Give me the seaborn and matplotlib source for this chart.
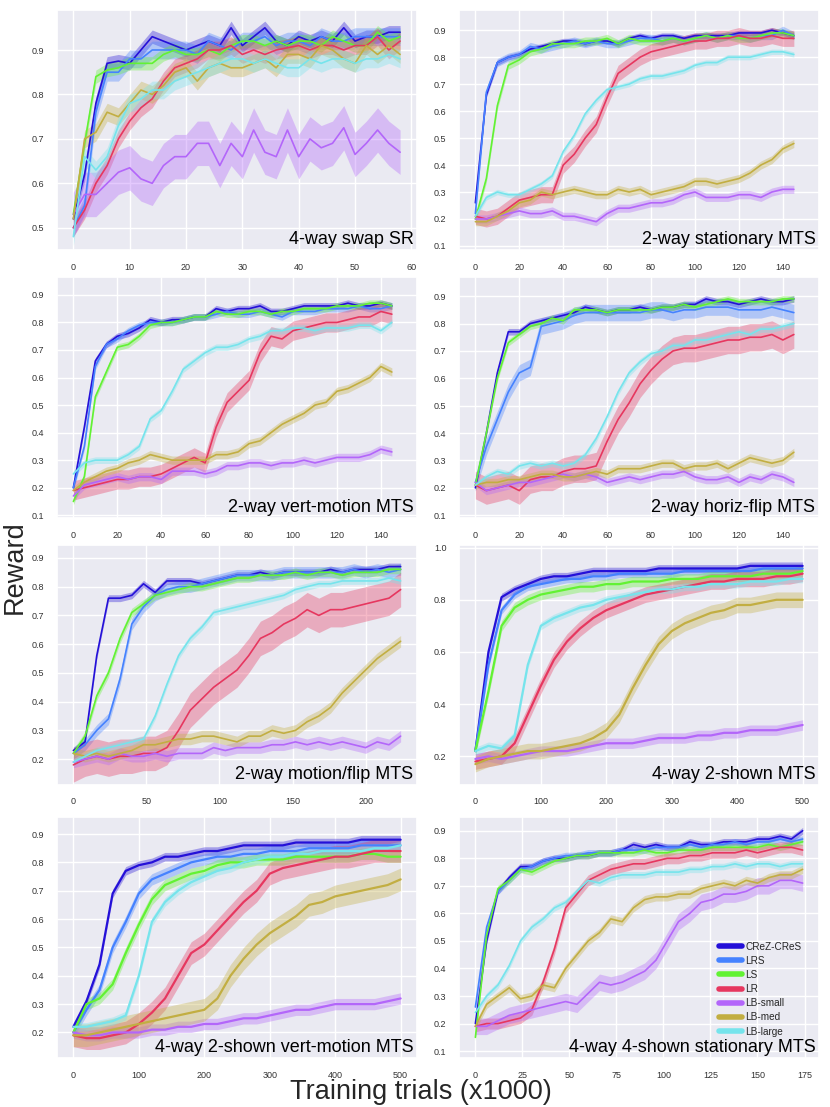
import numpy as np
import seaborn as sns
import matplotlib.pyplot as plt
from matplotlib.lines import Line2D
from matplotlib.ticker import MultipleLocator

# ----------------------
# Series names / colours
# ----------------------
MODELS = ["CReZ-CReS", "LRS", "LS", "LR", "LB-small", "LB-med", "LB-large"]
COLORS = ["#2410d8", "#4582ff", "#62f233", "#e6375f", "#b366fa", "#c2ae42", "#76e4ec"]

# ----------------------
# 4-way swap SR  (x = 0..58, step 2)
# ----------------------
SR_X = np.arange(0, 60, 2)
SR_CREZ = [0.52, 0.62, 0.78, 0.87, 0.875, 0.87, 0.90, 0.93, 0.92, 0.91, 0.90, 0.91, 0.92, 0.91, 0.95,
           0.91, 0.93, 0.95, 0.92, 0.91, 0.93, 0.92, 0.93, 0.92, 0.95, 0.92, 0.93, 0.93, 0.94, 0.94]
SR_LRS = [0.50, 0.55, 0.76, 0.85, 0.85, 0.88, 0.88, 0.90, 0.90, 0.90, 0.90, 0.89, 0.92, 0.91, 0.90,
          0.92, 0.92, 0.93, 0.91, 0.92, 0.92, 0.91, 0.93, 0.92, 0.92, 0.93, 0.93, 0.93, 0.93, 0.93]
SR_LS = [0.53, 0.69, 0.84, 0.855, 0.86, 0.87, 0.87, 0.87, 0.89, 0.90, 0.89, 0.89, 0.90, 0.89, 0.91,
         0.92, 0.92, 0.91, 0.92, 0.91, 0.92, 0.92, 0.91, 0.93, 0.92, 0.91, 0.91, 0.94, 0.92, 0.93]
SR_LR = [0.50, 0.54, 0.60, 0.64, 0.70, 0.74, 0.77, 0.79, 0.83, 0.86, 0.87, 0.88, 0.90, 0.90, 0.91,
         0.89, 0.90, 0.89, 0.90, 0.905, 0.91, 0.90, 0.91, 0.91, 0.90, 0.91, 0.91, 0.93, 0.90, 0.92]
SR_LBS = [0.53, 0.575, 0.575, 0.60, 0.625, 0.635, 0.61, 0.60, 0.64, 0.66, 0.66, 0.69, 0.69, 0.64, 0.69,
          0.66, 0.72, 0.67, 0.66, 0.72, 0.66, 0.70, 0.68, 0.69, 0.725, 0.665, 0.69, 0.72, 0.69, 0.67]
SR_LBM = [0.52, 0.70, 0.715, 0.76, 0.75, 0.78, 0.81, 0.80, 0.82, 0.85, 0.86, 0.83, 0.86, 0.87, 0.86,
          0.86, 0.87, 0.88, 0.86, 0.89, 0.89, 0.88, 0.91, 0.90, 0.88, 0.87, 0.91, 0.89, 0.91, 0.89]
SR_LBL = [0.48, 0.66, 0.63, 0.66, 0.73, 0.78, 0.79, 0.81, 0.81, 0.83, 0.84, 0.85, 0.86, 0.87, 0.88,
          0.88, 0.87, 0.88, 0.87, 0.86, 0.86, 0.88, 0.87, 0.88, 0.88, 0.87, 0.88, 0.88, 0.89, 0.88]
SR_BAND = [0.015, 0.02, 0.015, 0.02, 0.05, 0.02, 0.02]

# ----------------------
# 2-way stationary MTS  (x = 0..145, step 5)
# ----------------------
ST_X = np.arange(0, 150, 5)
ST_CREZ = [0.26, 0.66, 0.78, 0.80, 0.81, 0.83, 0.84, 0.85, 0.86, 0.86, 0.85, 0.86, 0.86, 0.85, 0.87,
           0.88, 0.87, 0.88, 0.88, 0.87, 0.88, 0.88, 0.88, 0.88, 0.89, 0.89, 0.89, 0.90, 0.89, 0.88]
ST_LRS = [0.22, 0.67, 0.78, 0.80, 0.81, 0.84, 0.83, 0.84, 0.85, 0.86, 0.85, 0.86, 0.85, 0.85, 0.86,
          0.87, 0.87, 0.86, 0.87, 0.86, 0.87, 0.88, 0.87, 0.88, 0.88, 0.87, 0.88, 0.88, 0.90, 0.88]
ST_LS = [0.20, 0.35, 0.62, 0.77, 0.79, 0.82, 0.83, 0.85, 0.85, 0.85, 0.86, 0.86, 0.87, 0.85, 0.87,
         0.86, 0.86, 0.86, 0.87, 0.86, 0.87, 0.88, 0.87, 0.88, 0.87, 0.87, 0.88, 0.89, 0.89, 0.88]
ST_LR = [0.21, 0.20, 0.21, 0.24, 0.27, 0.28, 0.29, 0.29, 0.40, 0.44, 0.50, 0.55, 0.65, 0.74, 0.77,
         0.80, 0.82, 0.83, 0.84, 0.85, 0.86, 0.86, 0.87, 0.87, 0.88, 0.87, 0.87, 0.88, 0.87, 0.87]
ST_LBS = [0.20, 0.20, 0.21, 0.22, 0.23, 0.22, 0.22, 0.23, 0.21, 0.21, 0.20, 0.19, 0.22, 0.24, 0.24,
          0.25, 0.26, 0.26, 0.27, 0.29, 0.30, 0.28, 0.28, 0.28, 0.29, 0.29, 0.28, 0.30, 0.31, 0.31]
ST_LBM = [0.19, 0.19, 0.21, 0.23, 0.26, 0.27, 0.30, 0.29, 0.30, 0.31, 0.30, 0.29, 0.29, 0.31, 0.30,
          0.31, 0.29, 0.30, 0.31, 0.32, 0.34, 0.34, 0.33, 0.34, 0.35, 0.37, 0.40, 0.42, 0.46, 0.48]
ST_LBL = [0.21, 0.28, 0.30, 0.29, 0.29, 0.31, 0.33, 0.36, 0.45, 0.51, 0.59, 0.64, 0.68, 0.69, 0.70,
          0.72, 0.73, 0.73, 0.74, 0.75, 0.77, 0.78, 0.78, 0.80, 0.80, 0.80, 0.81, 0.82, 0.82, 0.81]
ST_BAND = [0.01, 0.015, 0.015, 0.03, 0.015, 0.015, 0.01]

# ----------------------
# 2-way vert-motion MTS  (x = 0..145, step 5)
# ----------------------
VM_X = np.arange(0, 150, 5)
VM_CREZ = [0.20, 0.42, 0.66, 0.72, 0.75, 0.76, 0.78, 0.81, 0.80, 0.81, 0.81, 0.82, 0.82, 0.85, 0.84,
           0.85, 0.85, 0.86, 0.84, 0.84, 0.85, 0.86, 0.86, 0.86, 0.86, 0.87, 0.86, 0.86, 0.87, 0.86]
VM_LRS = [0.20, 0.35, 0.64, 0.72, 0.74, 0.77, 0.79, 0.80, 0.80, 0.80, 0.81, 0.82, 0.82, 0.83, 0.84,
          0.83, 0.83, 0.84, 0.83, 0.82, 0.84, 0.84, 0.84, 0.85, 0.85, 0.85, 0.86, 0.85, 0.85, 0.86]
VM_LS = [0.15, 0.24, 0.53, 0.62, 0.71, 0.72, 0.75, 0.79, 0.80, 0.80, 0.81, 0.82, 0.82, 0.84, 0.83,
         0.83, 0.84, 0.84, 0.83, 0.84, 0.84, 0.85, 0.85, 0.85, 0.86, 0.86, 0.86, 0.87, 0.87, 0.86]
VM_LR = [0.19, 0.20, 0.21, 0.22, 0.23, 0.23, 0.24, 0.24, 0.25, 0.27, 0.29, 0.31, 0.29, 0.42, 0.51,
         0.55, 0.59, 0.69, 0.75, 0.74, 0.77, 0.78, 0.79, 0.80, 0.80, 0.81, 0.82, 0.82, 0.84, 0.83]
VM_LBS = [0.17, 0.21, 0.22, 0.23, 0.24, 0.23, 0.24, 0.24, 0.23, 0.26, 0.26, 0.26, 0.25, 0.26, 0.28,
          0.28, 0.29, 0.29, 0.28, 0.29, 0.29, 0.30, 0.29, 0.30, 0.31, 0.31, 0.31, 0.32, 0.34, 0.33]
VM_LBM = [0.19, 0.22, 0.24, 0.26, 0.27, 0.29, 0.30, 0.32, 0.31, 0.30, 0.30, 0.30, 0.30, 0.32, 0.32,
          0.33, 0.36, 0.37, 0.40, 0.43, 0.45, 0.47, 0.50, 0.51, 0.55, 0.56, 0.58, 0.60, 0.64, 0.62]
VM_LBL = [0.25, 0.29, 0.30, 0.30, 0.30, 0.32, 0.35, 0.45, 0.48, 0.55, 0.63, 0.66, 0.69, 0.71, 0.71,
          0.72, 0.74, 0.75, 0.77, 0.77, 0.78, 0.78, 0.77, 0.78, 0.78, 0.78, 0.79, 0.79, 0.77, 0.80]
VM_BAND = [0.012, 0.012, 0.012, 0.035, 0.015, 0.015, 0.012]

# ----------------------
# 2-way horiz-flip MTS  (x = 0..145, step 5)
# ----------------------
HF_X = np.arange(0, 150, 5)
HF_CREZ = [0.20, 0.40, 0.62, 0.77, 0.77, 0.80, 0.81, 0.82, 0.83, 0.84, 0.86, 0.85, 0.84, 0.85, 0.85,
           0.86, 0.85, 0.86, 0.86, 0.87, 0.87, 0.89, 0.88, 0.88, 0.87, 0.88, 0.89, 0.88, 0.88, 0.89]
HF_LRS = [0.22, 0.35, 0.45, 0.55, 0.62, 0.64, 0.79, 0.80, 0.81, 0.83, 0.84, 0.84, 0.84, 0.84, 0.84,
          0.84, 0.85, 0.85, 0.84, 0.85, 0.85, 0.86, 0.86, 0.86, 0.85, 0.85, 0.85, 0.86, 0.85, 0.84]
HF_LS = [0.21, 0.40, 0.60, 0.73, 0.76, 0.79, 0.80, 0.82, 0.81, 0.85, 0.85, 0.85, 0.84, 0.85, 0.85,
         0.85, 0.85, 0.86, 0.86, 0.87, 0.86, 0.87, 0.88, 0.89, 0.88, 0.88, 0.88, 0.88, 0.89, 0.89]
HF_LR = [0.21, 0.19, 0.20, 0.21, 0.19, 0.23, 0.24, 0.24, 0.26, 0.27, 0.27, 0.28, 0.37, 0.45, 0.51,
         0.58, 0.63, 0.67, 0.70, 0.71, 0.71, 0.72, 0.73, 0.74, 0.74, 0.75, 0.75, 0.76, 0.74, 0.76]
HF_LBS = [0.22, 0.19, 0.20, 0.21, 0.22, 0.22, 0.23, 0.24, 0.25, 0.24, 0.25, 0.24, 0.22, 0.23, 0.24,
          0.23, 0.24, 0.25, 0.25, 0.26, 0.24, 0.23, 0.23, 0.24, 0.22, 0.24, 0.23, 0.25, 0.24, 0.22]
HF_LBM = [0.21, 0.22, 0.22, 0.23, 0.23, 0.24, 0.25, 0.25, 0.24, 0.24, 0.25, 0.26, 0.25, 0.27, 0.27,
          0.27, 0.28, 0.29, 0.29, 0.27, 0.28, 0.28, 0.29, 0.27, 0.29, 0.31, 0.30, 0.29, 0.30, 0.33]
HF_LBL = [0.21, 0.24, 0.26, 0.25, 0.28, 0.29, 0.28, 0.29, 0.28, 0.29, 0.32, 0.38, 0.46, 0.55, 0.62,
          0.66, 0.69, 0.70, 0.72, 0.72, 0.74, 0.74, 0.75, 0.76, 0.77, 0.76, 0.78, 0.78, 0.79, 0.80]
HF_BAND = [0.012, 0.03, 0.012, 0.05, 0.015, 0.015, 0.012]

# ----------------------
# 2-way motion/flip MTS  (x = 0..224, step 8)
# ----------------------
MF_X = np.arange(0, 225, 8)
MF_CREZ = [0.23, 0.26, 0.56, 0.76, 0.76, 0.77, 0.81, 0.78, 0.82, 0.82, 0.82, 0.81, 0.82, 0.83, 0.84,
           0.84, 0.85, 0.84, 0.85, 0.85, 0.85, 0.85, 0.86, 0.85, 0.86, 0.86, 0.86, 0.87, 0.87]
MF_LRS = [0.22, 0.25, 0.30, 0.34, 0.48, 0.67, 0.73, 0.77, 0.79, 0.80, 0.80, 0.81, 0.82, 0.83, 0.84,
          0.84, 0.84, 0.84, 0.85, 0.85, 0.85, 0.85, 0.85, 0.85, 0.86, 0.85, 0.86, 0.85, 0.86]
MF_LS = [0.22, 0.28, 0.42, 0.50, 0.62, 0.71, 0.74, 0.77, 0.78, 0.79, 0.80, 0.80, 0.81, 0.82, 0.83,
         0.83, 0.84, 0.84, 0.84, 0.85, 0.84, 0.85, 0.85, 0.84, 0.85, 0.85, 0.85, 0.86, 0.86]
MF_LR = [0.18, 0.20, 0.21, 0.20, 0.21, 0.21, 0.22, 0.22, 0.24, 0.30, 0.37, 0.41, 0.45, 0.48, 0.51,
         0.56, 0.62, 0.64, 0.67, 0.69, 0.72, 0.70, 0.72, 0.72, 0.73, 0.74, 0.75, 0.76, 0.79]
MF_LBS = [0.19, 0.20, 0.21, 0.20, 0.22, 0.21, 0.21, 0.22, 0.21, 0.22, 0.22, 0.22, 0.24, 0.23, 0.24,
          0.24, 0.24, 0.25, 0.25, 0.26, 0.25, 0.26, 0.25, 0.26, 0.25, 0.24, 0.26, 0.25, 0.28]
MF_LBM = [0.22, 0.21, 0.22, 0.21, 0.22, 0.23, 0.25, 0.25, 0.26, 0.27, 0.27, 0.28, 0.28, 0.27, 0.26,
          0.28, 0.28, 0.30, 0.29, 0.30, 0.33, 0.35, 0.38, 0.43, 0.47, 0.51, 0.55, 0.58, 0.61]
MF_LBL = [0.19, 0.21, 0.23, 0.24, 0.25, 0.26, 0.27, 0.35, 0.46, 0.56, 0.62, 0.66, 0.71, 0.72, 0.73,
          0.74, 0.75, 0.76, 0.77, 0.79, 0.80, 0.81, 0.81, 0.82, 0.82, 0.82, 0.82, 0.83, 0.82]
MF_BAND = [0.012, 0.02, 0.015, 0.06, 0.02, 0.02, 0.012]

# ----------------------
# 4-way 2-shown MTS  (x = 0..500, step 20)
# ----------------------
S2_X = np.arange(0, 501, 20)
S2_CREZ = [0.22, 0.60, 0.81, 0.84, 0.86, 0.88, 0.89, 0.89, 0.90, 0.91, 0.91, 0.91, 0.91,
           0.91, 0.92, 0.92, 0.92, 0.92, 0.92, 0.92, 0.92, 0.93, 0.93, 0.93, 0.93, 0.93]
S2_LRS = [0.22, 0.55, 0.76, 0.82, 0.85, 0.86, 0.87, 0.88, 0.88, 0.89, 0.89, 0.90, 0.90,
          0.90, 0.90, 0.90, 0.91, 0.91, 0.91, 0.91, 0.91, 0.91, 0.92, 0.92, 0.92, 0.92]
S2_LS = [0.22, 0.45, 0.70, 0.77, 0.80, 0.82, 0.83, 0.84, 0.85, 0.85, 0.86, 0.86, 0.87,
         0.87, 0.87, 0.88, 0.88, 0.88, 0.89, 0.89, 0.89, 0.89, 0.90, 0.90, 0.90, 0.91]
S2_LR = [0.18, 0.19, 0.20, 0.25, 0.36, 0.47, 0.57, 0.64, 0.69, 0.73, 0.76, 0.78, 0.80,
         0.82, 0.83, 0.84, 0.85, 0.86, 0.87, 0.87, 0.88, 0.88, 0.88, 0.89, 0.89, 0.90]
S2_LBS = [0.19, 0.20, 0.19, 0.20, 0.21, 0.22, 0.22, 0.22, 0.23, 0.24, 0.25, 0.25, 0.25,
          0.26, 0.27, 0.27, 0.27, 0.28, 0.28, 0.29, 0.29, 0.30, 0.30, 0.30, 0.31, 0.32]
S2_LBM = [0.17, 0.19, 0.20, 0.21, 0.22, 0.22, 0.23, 0.24, 0.25, 0.27, 0.30, 0.36, 0.46,
          0.55, 0.63, 0.68, 0.71, 0.73, 0.75, 0.76, 0.78, 0.78, 0.79, 0.80, 0.80, 0.80]
S2_LBL = [0.22, 0.24, 0.23, 0.28, 0.55, 0.70, 0.73, 0.75, 0.77, 0.78, 0.80, 0.81, 0.82,
          0.83, 0.84, 0.84, 0.85, 0.85, 0.86, 0.86, 0.86, 0.87, 0.87, 0.87, 0.88, 0.88]
S2_BAND = [0.015, 0.015, 0.02, 0.03, 0.02, 0.03, 0.015]

# ----------------------
# 4-way 2-shown vert-motion MTS  (x = 0..500, step 20)
# ----------------------
S2V_X = np.arange(0, 501, 20)
S2V_CREZ = [0.22, 0.31, 0.44, 0.69, 0.77, 0.79, 0.80, 0.82, 0.82, 0.83, 0.84, 0.84, 0.85,
            0.86, 0.86, 0.86, 0.86, 0.87, 0.87, 0.87, 0.87, 0.87, 0.88, 0.88, 0.88, 0.88]
S2V_LRS = [0.20, 0.28, 0.35, 0.50, 0.59, 0.69, 0.74, 0.76, 0.78, 0.80, 0.81, 0.82, 0.82,
           0.83, 0.83, 0.84, 0.84, 0.84, 0.85, 0.85, 0.85, 0.85, 0.86, 0.86, 0.86, 0.86]
S2V_LS = [0.20, 0.30, 0.32, 0.37, 0.48, 0.58, 0.67, 0.72, 0.74, 0.76, 0.77, 0.79, 0.80,
          0.80, 0.81, 0.81, 0.81, 0.82, 0.82, 0.82, 0.82, 0.82, 0.83, 0.83, 0.82, 0.82]
S2V_LR = [0.19, 0.18, 0.18, 0.19, 0.20, 0.23, 0.27, 0.32, 0.40, 0.48, 0.51, 0.56, 0.61,
          0.66, 0.70, 0.76, 0.78, 0.79, 0.80, 0.81, 0.82, 0.82, 0.83, 0.84, 0.84, 0.84]
S2V_LBS = [0.20, 0.19, 0.19, 0.20, 0.20, 0.20, 0.21, 0.21, 0.22, 0.22, 0.23, 0.23, 0.24,
           0.25, 0.25, 0.26, 0.27, 0.28, 0.28, 0.29, 0.30, 0.30, 0.30, 0.30, 0.31, 0.32]
S2V_LBM = [0.19, 0.19, 0.20, 0.21, 0.22, 0.23, 0.24, 0.25, 0.26, 0.27, 0.28, 0.32, 0.40,
           0.46, 0.51, 0.55, 0.58, 0.61, 0.65, 0.66, 0.68, 0.69, 0.70, 0.71, 0.72, 0.74]
S2V_LBL = [0.22, 0.22, 0.23, 0.24, 0.26, 0.40, 0.59, 0.66, 0.70, 0.73, 0.75, 0.77, 0.78,
           0.80, 0.81, 0.82, 0.82, 0.83, 0.83, 0.84, 0.84, 0.84, 0.84, 0.85, 0.85, 0.86]
S2V_BAND = [0.015, 0.02, 0.02, 0.04, 0.02, 0.04, 0.015]

# ----------------------
# 4-way 4-shown stationary MTS  (x = 0..174, step 6)
# ----------------------
S4_X = np.arange(0, 175, 6)
S4_CREZ = [0.20, 0.50, 0.68, 0.73, 0.77, 0.77, 0.79, 0.80, 0.80, 0.81, 0.81, 0.82, 0.82, 0.83, 0.85,
           0.84, 0.85, 0.84, 0.84, 0.86, 0.85, 0.85, 0.86, 0.86, 0.86, 0.87, 0.87, 0.88, 0.87, 0.90]
S4_LRS = [0.26, 0.55, 0.68, 0.72, 0.76, 0.77, 0.79, 0.80, 0.81, 0.81, 0.82, 0.82, 0.82, 0.83, 0.83,
          0.83, 0.84, 0.84, 0.84, 0.85, 0.84, 0.85, 0.85, 0.86, 0.85, 0.86, 0.86, 0.87, 0.86, 0.87]
S4_LS = [0.15, 0.52, 0.69, 0.72, 0.76, 0.75, 0.77, 0.79, 0.80, 0.81, 0.81, 0.82, 0.82, 0.82, 0.82,
         0.83, 0.82, 0.82, 0.83, 0.83, 0.83, 0.84, 0.84, 0.84, 0.84, 0.84, 0.85, 0.84, 0.85, 0.86]
S4_LR = [0.19, 0.20, 0.20, 0.21, 0.22, 0.25, 0.35, 0.47, 0.62, 0.67, 0.72, 0.74, 0.76, 0.77, 0.78,
         0.78, 0.79, 0.80, 0.80, 0.81, 0.81, 0.82, 0.82, 0.82, 0.83, 0.82, 0.83, 0.84, 0.84, 0.83]
S4_LBS = [0.19, 0.19, 0.21, 0.23, 0.24, 0.25, 0.26, 0.27, 0.28, 0.27, 0.31, 0.35, 0.34, 0.35, 0.37,
          0.39, 0.43, 0.50, 0.57, 0.60, 0.64, 0.65, 0.67, 0.67, 0.68, 0.70, 0.70, 0.72, 0.72, 0.71]
S4_LBM = [0.19, 0.27, 0.30, 0.33, 0.29, 0.30, 0.34, 0.33, 0.40, 0.45, 0.50, 0.53, 0.58, 0.57, 0.62,
          0.65, 0.66, 0.66, 0.67, 0.67, 0.69, 0.70, 0.71, 0.70, 0.72, 0.71, 0.73, 0.74, 0.74, 0.76]
S4_LBL = [0.24, 0.30, 0.34, 0.41, 0.50, 0.55, 0.58, 0.62, 0.64, 0.68, 0.72, 0.71, 0.73, 0.74, 0.74,
          0.74, 0.75, 0.75, 0.75, 0.76, 0.76, 0.77, 0.77, 0.78, 0.77, 0.78, 0.78, 0.77, 0.78, 0.78]
S4_BAND = [0.012, 0.012, 0.012, 0.02, 0.03, 0.015, 0.012]

TITLES = ["4-way swap SR", "2-way stationary MTS", "2-way vert-motion MTS", "2-way horiz-flip MTS",
          "2-way motion/flip MTS", "4-way 2-shown MTS", "4-way 2-shown vert-motion MTS",
          "4-way 4-shown stationary MTS"]


# ----------------------
# Helpers
# ----------------------
def draw_panel(ax, x, series, bands, title, xlim, ylim, xstep, ystep, lw):
    for name, color, y, band in zip(MODELS, COLORS, series, bands):
        y = np.asarray(y)
        ax.fill_between(x, y - band, y + band, color=color, alpha=0.35, lw=0)
        sns.lineplot(x=x, y=y, color=color, linewidth=lw, ax=ax, legend=False)
    ax.set_xlim(*xlim)
    ax.set_ylim(*ylim)
    ax.xaxis.set_major_locator(MultipleLocator(xstep))
    ax.yaxis.set_major_locator(MultipleLocator(ystep))
    ax.tick_params(labelsize=6.5, colors="#333333", pad=3)
    ax.set_xlabel("")
    ax.set_ylabel("")
    ax.text(0.99, 0.008, title, transform=ax.transAxes, ha="right", va="bottom",
            fontsize=13, color="black")


def main():
    sns.set_theme(style="darkgrid")
    plt.rcParams["font.family"] = ["Liberation Sans", "DejaVu Sans"]

    fig = plt.figure(figsize=(8.3, 11.07), dpi=100)
    W, H = 830.0, 1107.0
    lefts = [57, 459]
    rows = [(10, 250), (277, 518), (545, 785), (817, 1058)]
    axes = []
    for top, bot in rows:
        for left in lefts:
            axes.append(fig.add_axes([left / W, 1 - bot / H, 360 / W, (bot - top) / H]))

    panels = [
        (SR_X, [SR_CREZ, SR_LRS, SR_LS, SR_LR, SR_LBS, SR_LBM, SR_LBL], SR_BAND,
         (-2.9, 61.0), (0.45, 0.99), 10, 0.1),
        (ST_X, [ST_CREZ, ST_LRS, ST_LS, ST_LR, ST_LBS, ST_LBM, ST_LBL], ST_BAND,
         (-7.45, 156.45), (0.085, 0.975), 20, 0.1),
        (VM_X, [VM_CREZ, VM_LRS, VM_LS, VM_LR, VM_LBS, VM_LBM, VM_LBL], VM_BAND,
         (-7.45, 156.45), (0.09, 0.965), 20, 0.1),
        (HF_X, [HF_CREZ, HF_LRS, HF_LS, HF_LR, HF_LBS, HF_LBM, HF_LBL], HF_BAND,
         (-7.45, 156.45), (0.09, 0.97), 20, 0.1),
        (MF_X, [MF_CREZ, MF_LRS, MF_LS, MF_LR, MF_LBS, MF_LBM, MF_LBL], MF_BAND,
         (-11.2, 235.2), (0.11, 0.945), 50, 0.1),
        (S2_X, [S2_CREZ, S2_LRS, S2_LS, S2_LR, S2_LBS, S2_LBM, S2_LBL], S2_BAND,
         (-25, 525), (0.09, 1.01), 100, 0.2),
        (S2V_X, [S2V_CREZ, S2V_LRS, S2V_LS, S2V_LR, S2V_LBS, S2V_LBM, S2V_LBL], S2V_BAND,
         (-25, 525), (0.11, 0.96), 100, 0.1),
        (S4_X, [S4_CREZ, S4_LRS, S4_LS, S4_LR, S4_LBS, S4_LBM, S4_LBL], S4_BAND,
         (-8.7, 182.7), (0.075, 0.95), 25, 0.1),
    ]

    for i, (ax, (x, series, bands, xlim, ylim, xstep, ystep)) in enumerate(zip(axes, panels)):
        lw = 1.6 if i in (5, 6) else 1.2
        draw_panel(ax, x, series, bands, TITLES[i], xlim, ylim, xstep, ystep, lw)

    # legend in last panel
    handles = [Line2D([0], [0], color=c, lw=4, solid_capstyle="round") for c in COLORS]
    axes[-1].legend(handles, MODELS, loc="upper left", bbox_to_anchor=(0.71, 0.50),
                    frameon=False, fontsize=7.2, handlelength=2.3, handletextpad=0.4,
                    labelspacing=0.42, borderaxespad=0)

    fig.text(0.018, 0.488, "Reward", rotation=90, ha="center", va="center", fontsize=19.5)
    fig.text(0.507, 0.014, "Training trials (x1000)", ha="center", va="center", fontsize=19.5)

    fig.savefig("out.png", dpi=100)
    plt.close(fig)


if __name__ == "__main__":
    main()
